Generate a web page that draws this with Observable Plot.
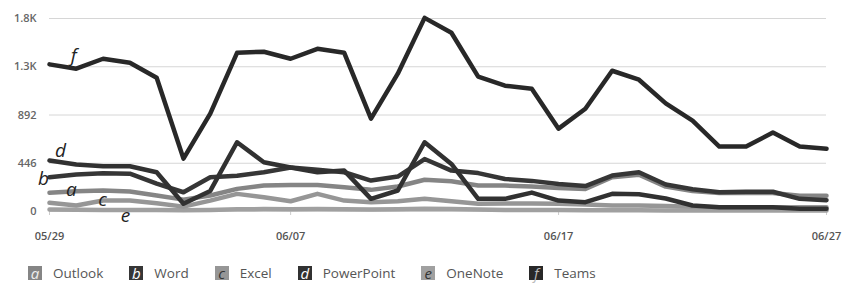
<!DOCTYPE html>
<html>
<head>
<meta charset="utf-8">
<script src="https://cdn.jsdelivr.net/npm/d3@7"></script>
<script src="https://cdn.jsdelivr.net/npm/@observablehq/plot@0.6"></script>
<style>
  html, body { margin: 0; padding: 0; background: #fff; }
  body { width: 842px; height: 285px; overflow: hidden; font-family: "Open Sans", sans-serif; }
  #legend { display: flex; align-items: center; padding-left: 28px; margin-top: 14px; font-size: 13.5px; color: #555; }
  .item { display: flex; align-items: center; margin-right: 26px; }
  .box { width: 14px; height: 14px; display: flex; align-items: center; justify-content: center; font-style: italic; font-size: 15px; line-height: 14px; margin-right: 11px; }
</style>
</head>
<body>
<div id="chart"></div>
<div id="legend"></div>
<script>
// ---- data ----
const year = 2023;
const dayLabels = ["05/29","05/30","05/31","06/01","06/02","06/03","06/04","06/05","06/06","06/07",
                   "06/08","06/09","06/10","06/11","06/12","06/13","06/14","06/15","06/16","06/17",
                   "06/18","06/19","06/20","06/21","06/22","06/23","06/24","06/25","06/26","06/27"];
const outlook    = [173,188,194,185,148,110,148,209,240,246,246,225,200,231,293,280,240,240,231,218,209,317,340,230,190,170,170,170,145,145];
const word       = [317,341,353,350,258,178,317,330,363,406,385,363,286,323,485,378,355,301,283,255,235,332,363,250,205,178,183,183,117,105];
const excel      = [80,55,101,101,77,45,101,163,132,95,163,101,86,95,117,95,71,75,75,71,65,55,55,50,45,40,40,40,40,40];
const powerpoint = [471,434,418,418,363,71,190,640,455,406,363,378,117,194,640,440,117,117,175,101,86,163,160,120,55,40,40,40,25,25];
const onenote    = [18,16,15,15,14,12,15,20,22,20,22,20,18,20,25,22,18,15,15,14,12,12,12,10,10,10,10,10,10,10];
const teams      = [1360,1320,1412,1375,1237,489,904,1467,1477,1412,1504,1467,858,1274,1790,1652,1246,1163,1135,766,950,1301,1218,1000,840,600,600,730,600,580];

const seriesNames  = ["Outlook","Word","Excel","PowerPoint","OneNote","Teams"];
const seriesKeys   = ["a","b","c","d","e","f"];
const seriesValues = [outlook, word, excel, powerpoint, onenote, teams];
const seriesColors = ["#858585","#363636","#969696","#313131","#a0a0a0","#282828"];
const boxText      = ["#eee","#fff","#333","#fff","#333","#bbb"];

const xTickLabels = ["05/29","06/07","06/17","06/27"];
const yTicks      = [0,446,892,1338,1784];
const yTickLabels = ["0","446","892","1.3K","1.8K"];

// inline letter annotations: [key, day position (fractional day from 05/29), value]
const annotations = [["f",0.9,1440],["d",0.41,563],["b",-0.22,305],["a",0.82,203],["c",1.98,111],["e",2.84,-37]];

// ---- build ----
const parse = d3.utcParse("%Y/%m/%d");
const dates = dayLabels.map(s => parse(year + "/" + s));
const t0 = dates[0].getTime();
const rows = seriesKeys.map((k, i) => seriesValues[i].map((v, j) => ({key: k, date: dates[j], value: v})));
const annRows = annotations.map(([k, d, v]) => ({key: k, date: new Date(t0 + d * 864e5), value: v}));
const xTickDates = xTickLabels.map(s => parse(year + "/" + s));

const drawOrder = [4, 2, 0, 1, 3, 5];
const lines = drawOrder.map(i => Plot.line(rows[i], {
  x: "date", y: "value", stroke: seriesColors[i], strokeWidth: 4.5,
  strokeLinejoin: "round", strokeLinecap: "round"
}));

const chart = Plot.plot({
  width: 842, height: 250,
  marginLeft: 49, marginRight: 16, marginTop: 18, marginBottom: 39,
  style: {fontFamily: "Open Sans, sans-serif", fontSize: "11px", background: "#fff"},
  x: {type: "utc", domain: [dates[0], dates[dates.length - 1]], label: null},
  y: {domain: [0, 1784], label: null},
  marks: [
    Plot.gridY(yTicks, {stroke: "#d6d6d6", strokeOpacity: 1}),
    Plot.axisY(yTicks, {tickSize: 0, tickPadding: 13, tickFormat: (d) => yTickLabels[yTicks.indexOf(d)],
      fill: "#666", fontWeight: 600, fontSize: 11, label: null}),
    Plot.axisX(xTickDates, {tickSize: 4, tickPadding: 17, tickFormat: d3.utcFormat("%m/%d"),
      stroke: "#ccc", fill: "#555", fontWeight: 600, fontSize: 11, label: null}),
    ...lines,
    Plot.text(annRows, {x: "date", y: "value", text: "key", fontStyle: "italic", fontSize: 19,
      fill: "#222", fontFamily: "Open Sans, sans-serif"})
  ]
});
document.getElementById("chart").appendChild(chart);

// legend
const legend = document.getElementById("legend");
seriesKeys.forEach((k, i) => {
  const item = document.createElement("div");
  item.className = "item";
  const box = document.createElement("div");
  box.className = "box";
  box.style.background = seriesColors[i];
  box.style.color = boxText[i];
  box.textContent = k;
  const label = document.createElement("span");
  label.textContent = seriesNames[i];
  item.appendChild(box);
  item.appendChild(label);
  legend.appendChild(item);
});
</script>
</body>
</html>
